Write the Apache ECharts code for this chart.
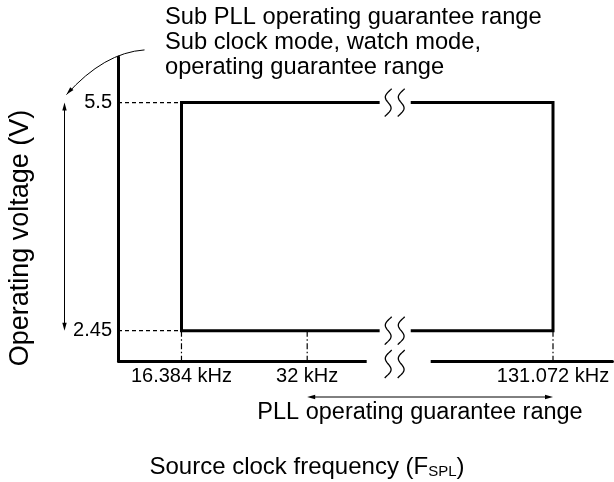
<!DOCTYPE html>
<html><head><meta charset="utf-8">
<style>html,body{margin:0;padding:0;background:#fff}#c{width:614px;height:482px}</style>
<script src="https://cdn.jsdelivr.net/npm/echarts@6/dist/echarts.min.js"></script>
</head><body><div id="c"></div>
<script>
// ---- data ----
const xTickValues = [16.384, 32, 131.072];      // kHz
const yTickValues = [2.45, 5.5];                // V
const rangeFreq = [16.384, 131.072];            // sub clock operating range (kHz)
const rangeVolt = [2.45, 5.5];                  // operating voltage range (V)
const pllFreq = [32, 131.072];                  // PLL operating guarantee range (kHz)
const xAxisRange = [8.5, 138.4];
const yAxisRange = [2.045, 6.11];
const xBreak = [41, 113.4];                     // axis break (kHz)
const xBreakGap = 3.86;
const topNote = ['Sub PLL operating guarantee range', 'Sub clock mode, watch mode,', 'operating guarantee range'];
const pllNote = 'PLL operating guarantee range';
const yTitle = 'Operating voltage (V)';
const xTitleMain = 'Source clock frequency (F';
const xTitleSub = 'SPL';

const FONT = '"Liberation Sans", Arial, Helvetica, sans-serif';
const INK = '#000';

function arrowHead(tx, ty, dx, dy, len, half) {
  const n = Math.hypot(dx, dy); dx /= n; dy /= n;
  const bx = tx - dx * len, by = ty - dy * len;
  return { type: 'polygon', shape: { points: [[tx, ty], [bx - dy * half, by + dx * half], [bx + dy * half, by - dx * half]] }, style: { fill: INK } };
}

function renderItem(params, api) {
  const c = (x, y) => api.coord([x, y]);
  const top = c(xAxisRange[0], rangeVolt[1]);
  const bot = c(xAxisRange[0], rangeVolt[0]);
  const axY = c(xAxisRange[0], yAxisRange[0])[1];
  const bx = (c(xBreak[0], rangeVolt[1])[0] + c(xBreak[1], rangeVolt[1])[0]) / 2;
  const ch = [];
  // gap in the x axis line
  ch.push({ type: 'rect', shape: { x: bx - 28.5, y: axY - 4, width: 64, height: 8 }, style: { fill: '#fff' } });
  // break squiggles (vertical S shapes)
  [top[1], bot[1], axY + 3].forEach(yc => {
    [-7, 6].forEach(dx => {
      const pts = [];
      for (let i = 0; i <= 30; i++) {
        const t = -0.08 + i / 30 * 1.16;
        pts.push([bx + dx - 3.6 * Math.sin(2 * Math.PI * t) + 3 * (0.5 - t), yc - 12 + 24 * t]);
      }
      ch.push({ type: 'polyline', shape: { points: pts }, style: { stroke: INK, lineWidth: 1.3, fill: null } });
    });
  });
  // voltage range double arrow
  const ax = top[0] - 53.5;
  ch.push({ type: 'line', shape: { x1: ax, y1: top[1] + 6, x2: ax, y2: bot[1] - 6 }, style: { stroke: INK, lineWidth: 1 } });
  ch.push(arrowHead(ax, top[1], 0, -1, 8, 2.2));
  ch.push(arrowHead(ax, bot[1], 0, 1, 8, 2.2));
  // PLL range double arrow
  const ay = axY + 36;
  const p1 = c(pllFreq[0], rangeVolt[0])[0], p2 = c(pllFreq[1], rangeVolt[0])[0];
  ch.push({ type: 'line', shape: { x1: p1 + 6, y1: ay, x2: p2 - 6, y2: ay }, style: { stroke: INK, lineWidth: 1 } });
  ch.push(arrowHead(p1, ay, -1, 0, 8, 2.2));
  ch.push(arrowHead(p2, ay, 1, 0, 8, 2.2));
  // curved pointer arrow
  const sx = top[0] + 26.5, sy = top[1] - 52.7, ex = ax + 2, ey = top[1] - 8, cx = top[0] - 14, cy = top[1] - 50;
  ch.push({ type: 'bezierCurve', shape: { x1: sx, y1: sy, x2: ex, y2: ey, cpx1: cx, cpy1: cy }, style: { stroke: INK, lineWidth: 1, fill: null } });
  ch.push(arrowHead(ex, ey, ex - cx, ey - cy, 8, 2.2));
  return { type: 'group', children: ch };
}

const chart = echarts.init(document.getElementById('c'), null, { renderer: 'canvas' });
const rectStyle = { color: INK, width: 3, join: 'miter', cap: 'butt' };
const series = [
  { type: 'line', data: [[xBreak[0], rangeVolt[1]], [rangeFreq[0], rangeVolt[1]], [rangeFreq[0], rangeVolt[0]], [xBreak[0], rangeVolt[0]]], symbol: 'none', lineStyle: rectStyle, z: 4 },
  { type: 'line', data: [[xBreak[1], rangeVolt[1]], [rangeFreq[1], rangeVolt[1]], [rangeFreq[1], rangeVolt[0]], [xBreak[1], rangeVolt[0]]], symbol: 'none', lineStyle: rectStyle, z: 4 }
];
yTickValues.forEach(v => series.push({ type: 'line', data: [[xAxisRange[0], v], [rangeFreq[0], v]], symbol: 'none', lineStyle: { color: INK, width: 1.2, type: [4, 3] }, z: 3 }));
xTickValues.forEach(v => series.push({ type: 'line', data: [[v, rangeVolt[0]], [v, yAxisRange[0]]], symbol: 'none', lineStyle: { color: INK, width: 1.2, type: [6, 2.5, 1.5, 2.5] }, z: 3 }));
series.push({ type: 'custom', renderItem, data: [[0, 0]], z: 5, clip: false, silent: true });
series.forEach(s => { s.silent = true; s.animation = false; });

chart.setOption({
  backgroundColor: '#fff',
  animation: false,
  grid: { left: 118, right: 2, top: 57, bottom: 121, containLabel: false, outerBoundsMode: 'none' },
  xAxis: {
    type: 'value', min: xAxisRange[0], max: xAxisRange[1],
    breaks: [{ start: xBreak[0], end: xBreak[1], gap: xBreakGap }],
    breakArea: { show: false },
    axisLine: { show: true, onZero: false, lineStyle: { color: INK, width: 3 } },
    axisTick: { show: false }, splitLine: { show: false },
    axisLabel: { customValues: xTickValues, formatter: v => v + ' kHz', color: INK, fontSize: 20, fontFamily: FONT, margin: 5 }
  },
  yAxis: {
    type: 'value', min: yAxisRange[0], max: yAxisRange[1],
    axisLine: { show: true, onZero: false, lineStyle: { color: INK, width: 3 } },
    axisTick: { show: false }, splitLine: { show: false },
    axisLabel: { customValues: yTickValues, formatter: v => String(v), color: INK, fontSize: 20, fontFamily: FONT, margin: 6 }
  },
  graphic: [
    ...topNote.map((t, i) => ({ type: 'text', left: 165, top: 5 + i * 25, style: { text: t, fill: INK, font: '23.7px ' + FONT } })),
    { type: 'text', x: 420, y: 413, style: { text: pllNote, fill: INK, font: '23.5px ' + FONT, align: 'center', verticalAlign: 'middle' } },
    { type: 'text', x: 21, y: 238, rotation: Math.PI / 2, style: { text: yTitle, fill: INK, font: '27px ' + FONT, align: 'center', verticalAlign: 'middle' } },
    { type: 'text', x: 307, y: 467, style: { text: '{a|' + xTitleMain + '}{s|' + xTitleSub + '}{a|)}', align: 'center', verticalAlign: 'middle',
      rich: { a: { fontSize: 24, fontFamily: FONT, color: INK }, s: { fontSize: 15, fontFamily: FONT, color: INK, verticalAlign: 'bottom', padding: [5, 0, 0, 0] } } } }
  ],
  series
});
</script></body></html>
